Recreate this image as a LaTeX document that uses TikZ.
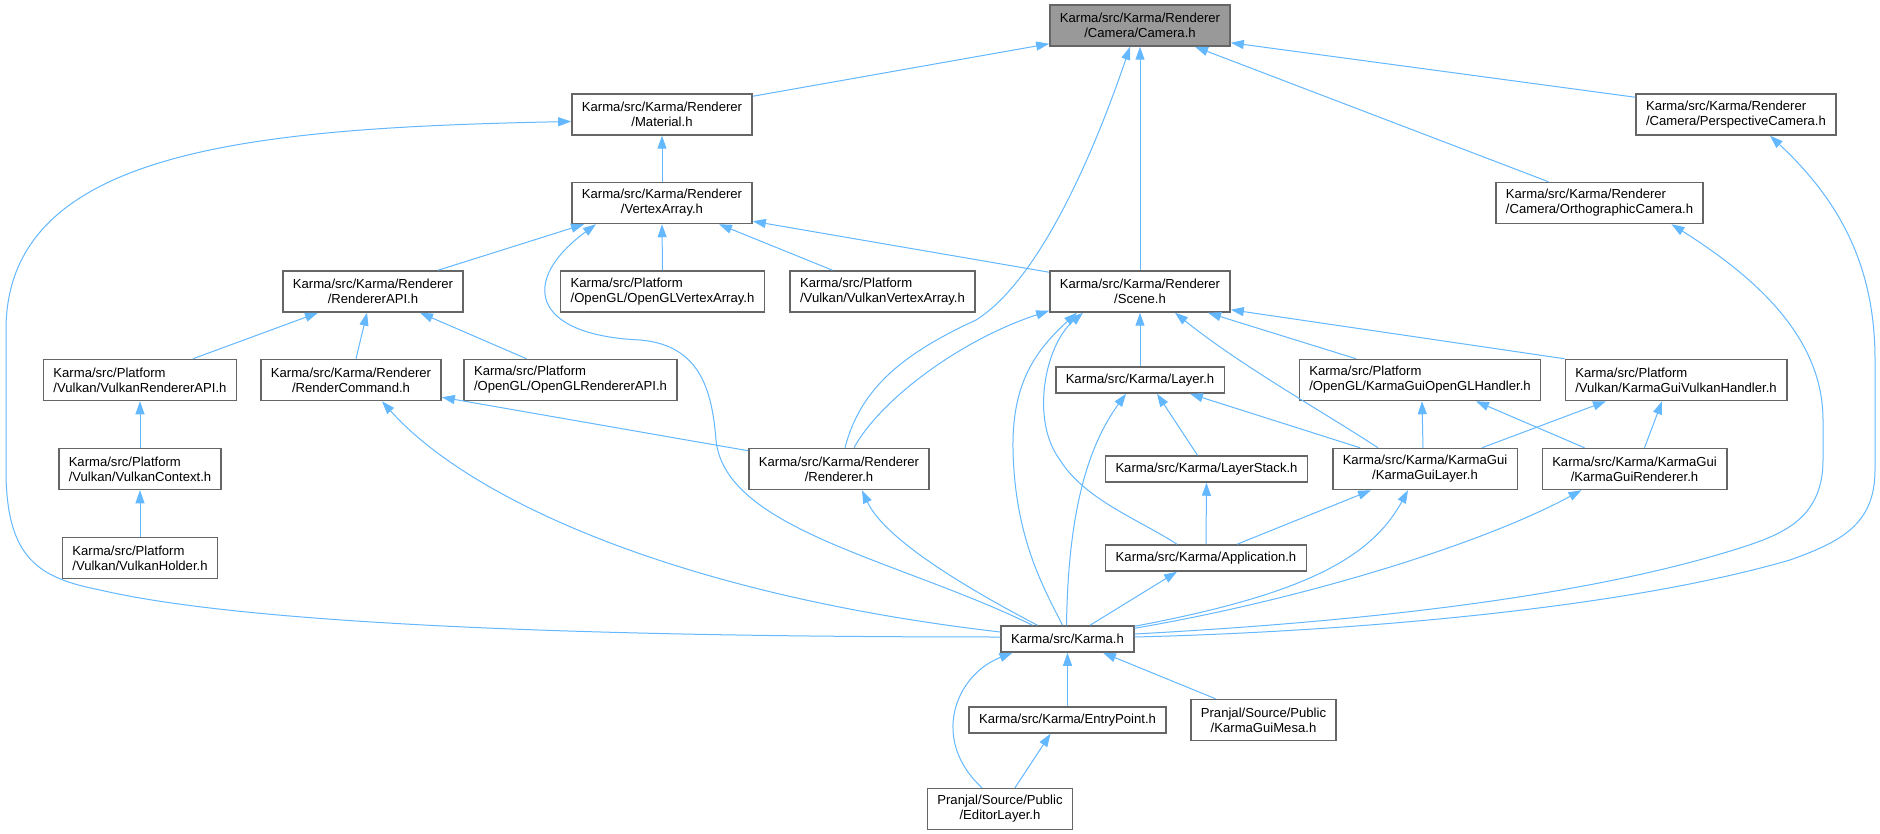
\documentclass[tikz,border=0pt]{standalone}
\usepackage{fontspec}
\setmainfont{Liberation Sans}
\usetikzlibrary{arrows.meta,calc}
\definecolor{edgeblue}{HTML}{63B8FF}
\definecolor{boxborder}{HTML}{666666}
\definecolor{camfill}{HTML}{999999}
\newcommand{\nodefnt}{\fontsize{13.1pt}{15pt}\selectfont}
\begin{document}
\begin{tikzpicture}[x=1pt,y=-1pt,
  box/.style={draw=boxborder, line width=1.5pt, fill=white, inner xsep=10pt, inner ysep=0pt,
              minimum height=41pt, align=center, font=\nodefnt},
  lbox/.style={box, align=left},
  sbox/.style={box, minimum height=26pt},
  dep/.style={draw=edgeblue, line width=1pt, {Triangle[length=13pt,width=9pt]}-}]
\fill[white] (0,0) rectangle (1880,834);
\useasboundingbox (0,0) rectangle (1880,834);

% nodes
\node[box, fill=camfill] (camera) at (1140,25.5) {Karma/src/Karma/Renderer\\/Camera/Camera.h};
\node[box] (material) at (662,114.5) {Karma/src/Karma/Renderer\\/Material.h};
\node[lbox] (persp) at (1736,114.5) {Karma/src/Karma/Renderer\\/Camera/PerspectiveCamera.h};
\node[box] (vertexarray) at (662,203) {Karma/src/Karma/Renderer\\/VertexArray.h};
\node[lbox] (ortho) at (1599.5,203) {Karma/src/Karma/Renderer\\/Camera/OrthographicCamera.h};
\node[box] (rendererapi) at (373,291.5) {Karma/src/Karma/Renderer\\/RendererAPI.h};
\node[lbox] (oglva) at (662.5,291.5) {Karma/src/Platform\\/OpenGL/OpenGLVertexArray.h};
\node[lbox] (vkva) at (882.5,291.5) {Karma/src/Platform\\/Vulkan/VulkanVertexArray.h};
\node[box] (scene) at (1140,291.5) {Karma/src/Karma/Renderer\\/Scene.h};
\node[lbox] (vkrapi) at (140,380) {Karma/src/Platform\\/Vulkan/VulkanRendererAPI.h};
\node[box] (rendercmd) at (351,380) {Karma/src/Karma/Renderer\\/RenderCommand.h};
\node[lbox] (oglrapi) at (570.5,380) {Karma/src/Platform\\/OpenGL/OpenGLRendererAPI.h};
\node[sbox] (layer) at (1140,380) {Karma/src/Karma/Layer.h};
\node[lbox] (oglhandler) at (1420,380) {Karma/src/Platform\\/OpenGL/KarmaGuiOpenGLHandler.h};
\node[lbox] (vkhandler) at (1676,380) {Karma/src/Platform\\/Vulkan/KarmaGuiVulkanHandler.h};
\node[lbox] (vkcontext) at (140,469) {Karma/src/Platform\\/Vulkan/VulkanContext.h};
\node[box] (renderer) at (839,469) {Karma/src/Karma/Renderer\\/Renderer.h};
\node[sbox] (layerstack) at (1206.5,469) {Karma/src/Karma/LayerStack.h};
\node[box] (guilayer) at (1425,469) {Karma/src/Karma/KarmaGui\\/KarmaGuiLayer.h};
\node[box] (guirenderer) at (1634.5,469) {Karma/src/Karma/KarmaGui\\/KarmaGuiRenderer.h};
\node[lbox] (vkholder) at (140,558) {Karma/src/Platform\\/Vulkan/VulkanHolder.h};
\node[sbox] (application) at (1206,558) {Karma/src/Karma/Application.h};
\node[sbox] (karma) at (1067.5,639) {Karma/src/Karma.h};
\node[sbox] (entrypoint) at (1067.5,720) {Karma/src/Karma/EntryPoint.h};
\node[box] (mesa) at (1263.5,720) {Pranjal/Source/Public\\/KarmaGuiMesa.h};
\node[box] (editor) at (1000,809) {Pranjal/Source/Public\\/EditorLayer.h};

% edges to camera
\draw[dep] ($(camera.south west)+(0,-3)$) -- ($(material.north east)+(0,3)$);
\draw[dep] ($(camera.south east)+(0,-4)$) -- ($(persp.north west)+(0,4)$);
\draw[dep] ($(camera.south)+(55,0)$) -- ($(ortho.north)+(-51,0)$);
\draw[dep] (camera.south) -- (scene.north);
\draw[dep] ($(camera.south)+(-10,0)$) .. controls (1095,150) and (1040,280) .. (976,320)
  .. controls (900,355) and (860,390) .. ($(renderer.north)+(6,0)$);

% material
\draw[dep] (material.south) -- (vertexarray.north);
\draw[dep] ($(material.west)+(0,7)$) .. controls (250,128) and (6,150) .. (6,330) -- (6,470)
  .. controls (6,560) and (40,578) .. (100,590) .. controls (250,625) and (600,637) .. ($(karma.west)+(0,-2)$);

% vertex array
\draw[dep] ($(vertexarray.south)+(-78,0)$) -- ($(rendererapi.north)+(65,0)$);
\draw[dep] (vertexarray.south) -- (oglva.north);
\draw[dep] ($(vertexarray.south)+(57,0)$) -- ($(vkva.north)+(-50,0)$);
\draw[dep] ($(vertexarray.south east)+(0,-3)$) -- ($(scene.north west)+(0,2)$);
\draw[dep] ($(vertexarray.south)+(-66,0)$) .. controls (520,280) and (530,335) .. (640,340)
  .. controls (700,345) and (712,390) .. (716,440) .. controls (725,530) and (900,560) .. ($(karma.north)+(-35,0)$);

% perspective / orthographic
\draw[dep] ($(persp.south)+(34,0)$) .. controls (1850,210) and (1875,280) .. (1875,360) -- (1875,470)
  .. controls (1875,525) and (1840,542) .. (1790,560) .. controls (1600,615) and (1300,633) .. ($(karma.east)+(0,-2)$);
\draw[dep] ($(ortho.south)+(72,0)$) .. controls (1760,280) and (1823,340) .. (1823,420) -- (1823,460)
  .. controls (1823,520) and (1780,535) .. (1740,548) .. controls (1560,605) and (1300,625) .. ($(karma.east)+(0,-5)$);

% renderer api group
\draw[dep] ($(rendererapi.south)+(-55,0)$) -- ($(vkrapi.north)+(53,0)$);
\draw[dep] ($(rendererapi.south)+(-6,0)$) -- ($(rendercmd.north)+(5,0)$);
\draw[dep] ($(rendererapi.south)+(47,0)$) -- ($(oglrapi.north)+(-44,0)$);
\draw[dep] (vkrapi.south) -- (vkcontext.north);
\draw[dep] (vkcontext.south) -- (vkholder.north);
\draw[dep] ($(rendercmd.south)+(31,0)$) .. controls (470,500) and (680,595) .. ($(karma.west)+(0,-7)$);
\draw[dep] ($(rendercmd.south east)+(0,-4)$) -- ($(renderer.north west)+(0,3)$);
\draw[dep] ($(renderer.south)+(23,0)$) .. controls (885,540) and (970,590) .. ($(karma.north)+(-30,0)$);

% scene group
\draw[dep] ($(scene.south west)+(0,-2)$) .. controls (960,340) and (880,400) .. ($(renderer.north)+(15,0)$);
\draw[dep] (scene.south) -- (layer.north);
\draw[dep] ($(scene.south)+(68,0)$) -- ($(oglhandler.north)+(-64,0)$);
\draw[dep] ($(scene.south east)+(0,-3)$) -- (vkhandler.north west);
\draw[dep] ($(scene.south)+(-63,0)$) .. controls (1030,355) and (1012,390) .. (1013,450)
  .. controls (1015,540) and (1045,590) .. ($(karma.north)+(-5,0)$);
\draw[dep] ($(scene.south)+(-57,0)$) .. controls (1045,345) and (1030,420) .. (1060,460)
  .. controls (1085,500) and (1140,520) .. ($(application.north)+(-29,0)$);
\draw[dep] ($(scene.south)+(35,0)$) .. controls (1240,365) and (1320,410) .. ($(guilayer.north)+(-47,0)$);

% layer group
\draw[dep] ($(layer.south)+(17,0)$) -- ($(layerstack.north)+(-9,0)$);
\draw[dep] ($(layer.south)+(50,0)$) -- ($(guilayer.north)+(-65,0)$);
\draw[dep] ($(layer.south)+(-14,0)$) .. controls (1085,450) and (1068,520) .. ($(karma.north)+(-1,0)$);

% gui group
\draw[dep] ($(oglhandler.south)+(2,0)$) -- ($(guilayer.north)+(-2,0)$);
\draw[dep] ($(vkhandler.south)+(-70,0)$) -- ($(guilayer.north)+(57,0)$);
\draw[dep] ($(oglhandler.south)+(56,0)$) -- ($(guirenderer.north)+(-50,0)$);
\draw[dep] ($(vkhandler.south)+(-14,0)$) -- ($(guirenderer.north)+(10,0)$);
\draw[dep] (layerstack.south) -- (application.north);
\draw[dep] ($(guilayer.south)+(-54,0)$) -- ($(application.north)+(31,0)$);
\draw[dep] ($(application.south)+(-29,0)$) -- ($(karma.north)+(22.5,0)$);
\draw[dep] ($(guilayer.south)+(-17,0)$) .. controls (1370,560) and (1300,595) .. ($(karma.north east)+(0,1)$);
\draw[dep] ($(guirenderer.south)+(-53,0)$) .. controls (1480,545) and (1300,600) .. ($(karma.north east)+(0,3)$);

% bottom
\draw[dep] (karma.south) -- (entrypoint.north);
\draw[dep] ($(karma.south)+(35.5,0)$) -- ($(mesa.north)+(-48,0)$);
\draw[dep] ($(karma.south)+(-55,0)$) .. controls (955,675) and (930,740) .. ($(editor.north)+(-18,0)$);
\draw[dep] ($(entrypoint.south)+(-17,0)$) -- ($(editor.north)+(15,0)$);
\end{tikzpicture}
\end{document}
